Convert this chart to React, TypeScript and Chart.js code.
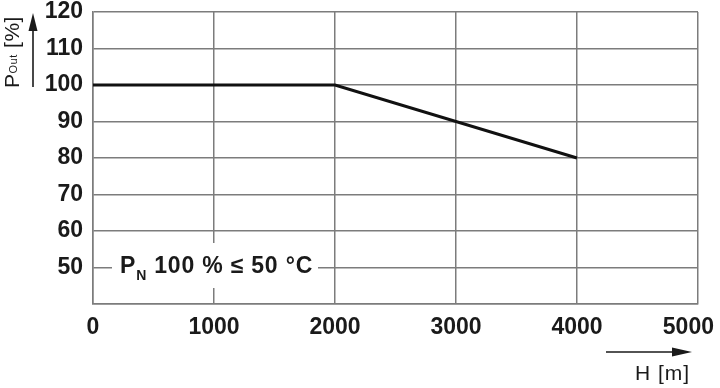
import React, { useEffect, useRef } from "react";
import { Chart, registerables } from "chart.js";

Chart.register(...registerables);

const altitudes = [0, 2000, 4000];
const powerOut = [100, 100, 80];
const xTickValues = [0, 1000, 2000, 3000, 4000, 5000];
const yTickValues = [40, 50, 60, 70, 80, 90, 100, 110, 120];
const yTitleMain = "P";
const yTitleSub = "Out";
const yTitleUnit = " [%]";
const xTitle = "H [m]";
const noteMain = "P";
const noteSub = "N";
const noteRest = " 100 % \u2264 50 \u00b0C";

const W = 720;
const H = 388;
const GRID = "#7c7c7c";
const TEXT = "#1a1a1a";
const FONT = "'Liberation Sans', Arial, sans-serif";

const overlay = {
  id: "overlay",
  afterDraw(chart: any) {
    const ctx = chart.ctx as any;
    const ca = chart.chartArea;
    ctx.save();
    ctx.fillStyle = TEXT;
    ctx.strokeStyle = TEXT;

    // annotation box
    const bx = ca.left + 19;
    const by = ca.top + 231;
    const bw = 206;
    const bh = 45;
    ctx.fillStyle = "#ffffff";
    ctx.fillRect(bx, by, bw, bh);
    ctx.fillStyle = TEXT;
    ctx.textAlign = "left";
    ctx.textBaseline = "alphabetic";
    ctx.letterSpacing = "0.8px";
    let tx = bx + 8;
    const tb = by + 30;
    ctx.font = `bold 23px ${FONT}`;
    ctx.fillText(noteMain, tx, tb);
    tx += ctx.measureText(noteMain).width;
    ctx.font = `bold 14px ${FONT}`;
    ctx.fillText(noteSub, tx, tb + 7);
    tx += ctx.measureText(noteSub).width;
    ctx.font = `bold 23px ${FONT}`;
    ctx.fillText(noteRest, tx, tb);

    // y axis title (rotated)
    ctx.letterSpacing = "0.5px";
    ctx.save();
    ctx.translate(19, 88);
    ctx.rotate(-Math.PI / 2);
    let rx = 0;
    ctx.font = `21px ${FONT}`;
    ctx.fillText(yTitleMain, rx, 0);
    rx += ctx.measureText(yTitleMain).width;
    ctx.font = `11px ${FONT}`;
    ctx.fillText(yTitleSub, rx, -2);
    rx += ctx.measureText(yTitleSub).width;
    ctx.font = `21px ${FONT}`;
    ctx.fillText(yTitleUnit, rx, 0);
    ctx.restore();

    // y arrow
    ctx.lineWidth = 1.6;
    ctx.beginPath();
    ctx.moveTo(33, 87);
    ctx.lineTo(33, 28);
    ctx.stroke();
    ctx.beginPath();
    ctx.moveTo(33, 13);
    ctx.lineTo(28.5, 31);
    ctx.lineTo(37.5, 31);
    ctx.closePath();
    ctx.fill();

    // x arrow
    ctx.beginPath();
    ctx.moveTo(606, 352);
    ctx.lineTo(676, 352);
    ctx.stroke();
    ctx.beginPath();
    ctx.moveTo(692, 352);
    ctx.lineTo(672, 347.5);
    ctx.lineTo(672, 356.5);
    ctx.closePath();
    ctx.fill();

    // x title
    ctx.letterSpacing = "1px";
    ctx.font = `21px ${FONT}`;
    ctx.textAlign = "left";
    ctx.fillText(xTitle, 635, 380);

    ctx.restore();
  },
};

export default function App() {
  const ref = useRef<HTMLCanvasElement | null>(null);

  useEffect(() => {
    if (!ref.current) return;
    const tickFont = { family: FONT, size: 23, weight: "bold" as const };
    const chart = new Chart(ref.current, {
      type: "line",
      data: {
        datasets: [
          {
            data: altitudes.map((a, i) => ({ x: a, y: powerOut[i] })),
            borderColor: "#111111",
            borderWidth: 3,
            pointRadius: 0,
            fill: false,
            tension: 0,
          },
        ],
      },
      plugins: [overlay],
      options: {
        responsive: false,
        animation: false,
        devicePixelRatio: 1,
        layout: { padding: { left: 0, right: 22, top: 12, bottom: 0 } },
        plugins: { legend: { display: false }, tooltip: { enabled: false } },
        scales: {
          x: {
            type: "linear",
            min: xTickValues[0],
            max: xTickValues[xTickValues.length - 1],
            afterBuildTicks: (s: any) => {
              s.ticks = xTickValues.map((v) => ({ value: v }));
            },
            ticks: {
              font: tickFont,
              color: TEXT,
              padding: 10,
              maxRotation: 0,
              autoSkip: false,
              callback: (v: any) =>
                v === xTickValues[xTickValues.length - 1] ? `${v}   ` : `${v}`,
            },
            grid: { color: GRID, lineWidth: 1.5, drawTicks: false },
            border: { display: true, color: GRID, width: 1.5 },
            afterFit: (s: any) => {
              s.height = 84;
              s.paddingLeft = 0;
              s.paddingRight = 0;
            },
          },
          y: {
            type: "linear",
            min: yTickValues[0],
            max: yTickValues[yTickValues.length - 1],
            afterBuildTicks: (s: any) => {
              s.ticks = yTickValues.map((v) => ({ value: v }));
            },
            ticks: {
              font: tickFont,
              color: TEXT,
              padding: 10,
              autoSkip: false,
              callback: (v: any) => (v === yTickValues[0] ? "" : `${v}`),
            },
            grid: { color: GRID, lineWidth: 1.5, drawTicks: false },
            border: { display: true, color: GRID, width: 1.5 },
            afterFit: (s: any) => {
              s.width = 93;
              s.paddingTop = 0;
              s.paddingBottom = 0;
            },
          },
        },
      },
    });
    return () => chart.destroy();
  }, []);

  return (
    <div style={{ position: "absolute", left: 0, top: 0, width: W, height: H, background: "#fff" }}>
      <canvas ref={ref} width={W} height={H} style={{ display: "block" }} />
    </div>
  );
}
